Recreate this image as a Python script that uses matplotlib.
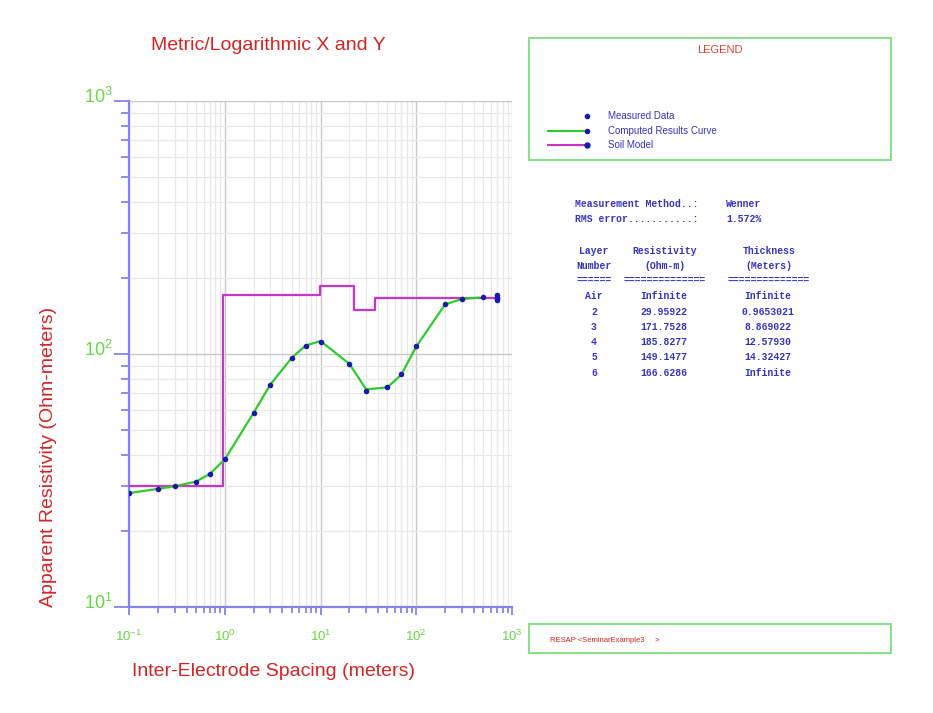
import numpy as np
import matplotlib
matplotlib.use("Agg")
from matplotlib import pyplot as plt
from matplotlib.transforms import ScaledTranslation

# Measured data (spacing in meters, apparent resistivity in ohm-m)
meas_x = [0.1, 0.2, 0.3, 0.5, 0.7, 1, 2, 3, 5, 7, 10, 20, 30, 50, 70, 100, 200, 300, 500, 700, 700]
meas_y = [28.3, 29.2, 30.0, 31.1, 33.5, 38.5, 58.6, 75.4, 96.7, 107.6, 111.3, 91.0, 71.4, 74.3, 83.4,
          107.6, 157.7, 165.0, 168.5, 171.0, 163.5]

# Computed results curve
comp_x = [0.1, 0.2, 0.3, 0.5, 0.7, 1, 2, 3, 5, 7, 10, 20, 30, 50, 70, 100, 200, 300, 450]
comp_y = [28.2, 29.3, 30.0, 31.3, 33.6, 38.3, 58.5, 75.8, 96.5, 108.0, 112.5, 91.5, 72.5, 73.8, 83.0,
          107.0, 157.0, 165.0, 167.0]

# Soil model layers
layer_names = ["Air", "2", "3", "4", "5", "6"]
layer_res_txt = ["Infinite", "29.95922", "171.7528", "185.8277", "149.1477", "166.6286"]
layer_thk_txt = ["Infinite", "0.9653021", "8.869022", "12.57930", "14.32427", "Infinite"]
layer_res = [29.95922, 171.7528, 185.8277, 149.1477, 166.6286]
layer_thk = [0.9653021, 8.869022, 12.57930, 14.32427]
x_start, x_end = 0.1, 700

W, H = 933, 713
red = "#d42424"
green_txt = "#66d845"
blue_ax = "#8484ec"
blue_txt = "#3434c4"
box_green = "#86e086"
dot = "#1a1aaa"


def fx(px):
    return px / W


def fy(py):
    return 1 - py / H


fig = plt.figure(figsize=(W / 100, H / 100), dpi=100)
ax = fig.add_axes([fx(129), fy(607), fx(512) - fx(129), fy(101) - fy(607)])

# soil model step line
bounds = np.concatenate([[x_start], np.cumsum(layer_thk), [x_end]])
soil_y = layer_res + [layer_res[-1]]
ax.plot(bounds, soil_y, drawstyle="steps-post", color="#cc33cc", linewidth=1.6, zorder=3)
ax.plot([x_end], [layer_res[-1]], marker="o", markersize=3.2, color=dot, zorder=5)

ax.plot(comp_x, comp_y, color="#2ccc2c", linewidth=1.6, zorder=4)
ax.plot(meas_x, meas_y, linestyle="none", marker="o", markersize=3.0, color=dot, zorder=5)

ax.set_xscale("log")
ax.set_yscale("log")
ax.set_xlim(0.1, 1000)
ax.set_ylim(10, 1000)

ax.grid(which="major", color="#c8c8c8", linewidth=1.0)
ax.grid(which="minor", color="#e8e8e8", linewidth=0.9)
ax.spines["top"].set_visible(False)
ax.spines["right"].set_visible(False)
for s in ["left", "bottom"]:
    ax.spines[s].set_color(blue_ax)
    ax.spines[s].set_linewidth(1.6)

ax.tick_params(axis="x", which="major", length=6, width=1.3, color=blue_ax, labelsize=9.5,
               labelcolor=green_txt, pad=10)
ax.tick_params(axis="x", which="minor", length=4.5, width=1.3, color=blue_ax)
ax.tick_params(axis="y", which="major", length=11, width=1.3, color=blue_ax, labelsize=13,
               labelcolor=green_txt, pad=1)
ax.tick_params(axis="y", which="minor", length=6, width=1.3, color=blue_ax)
ax.yaxis.set_minor_formatter(matplotlib.ticker.NullFormatter())
ax.xaxis.set_minor_formatter(matplotlib.ticker.NullFormatter())
ax.set_yticks([10, 100, 1000])
ax.set_xticks([0.1, 1, 10, 100, 1000])
shift_up = ScaledTranslation(0, 6 / 100, fig.dpi_scale_trans)
for lab in ax.get_yticklabels():
    lab.set_family("Liberation Sans")
    lab.set_transform(lab.get_transform() + shift_up)
for lab in ax.get_xticklabels():
    lab.set_family("Liberation Sans")

# titles and axis labels
fig.text(fx(268), fy(45), "Metric/Logarithmic X and Y", color=red, fontsize=14,
         family="Liberation Sans", ha="center", va="center")
fig.text(fx(49), fy(457), "Apparent Resistivity (Ohm-meters)", color=red, fontsize=14,
         family="Liberation Sans", ha="center", va="center", rotation=90)
fig.text(fx(273), fy(672), "Inter-Electrode Spacing (meters)", color=red, fontsize=14,
         family="Liberation Sans", ha="center", va="center")

# legend box
lax = fig.add_axes([fx(529), fy(160), fx(891) - fx(529), fy(38) - fy(160)])
lax.set_xlim(529, 891)
lax.set_ylim(160, 38)
lax.set_xticks([])
lax.set_yticks([])
for s in lax.spines.values():
    s.set_color(box_green)
    s.set_linewidth(1.4)
lax.text(720, 50, "LEGEND", color="#e04030", fontsize=8, family="Liberation Sans",
         ha="center", va="center")
lax.plot([587], [116], marker="o", markersize=3.0, color=dot, linestyle="none")
lax.plot([548, 587], [131, 131], color="#2ccc2c", linewidth=1.5)
lax.plot([587], [131], marker="o", markersize=3.0, color=dot)
lax.plot([548, 587], [145, 145], color="#cc33cc", linewidth=1.5)
lax.plot([587], [145], marker="o", markersize=3.6, color=dot)
for yy, txt in zip([116, 131, 145], ["Measured Data", "Computed Results Curve", "Soil Model"]):
    lax.text(608, yy, txt, color=blue_txt, fontsize=7, family="Liberation Sans", va="center")

# results table
mono = dict(color=blue_txt, fontsize=7, family="Liberation Mono", weight="bold", va="center")
fig.text(fx(575), fy(204), "Measurement Method..:", ha="left", **mono)
fig.text(fx(726), fy(204), "Wenner", ha="left", **mono)
fig.text(fx(575), fy(219), "RMS error...........:", ha="left", **mono)
fig.text(fx(726), fy(219), "1.572%", ha="left", **mono)

col_x = [594, 665, 769]
fig.text(fx(col_x[0]), fy(251), "Layer", ha="center", **mono)
fig.text(fx(col_x[1]), fy(251), "Resistivity", ha="center", **mono)
fig.text(fx(col_x[2]), fy(251), "Thickness", ha="center", **mono)
fig.text(fx(col_x[0]), fy(266), "Number", ha="center", **mono)
fig.text(fx(col_x[1]), fy(266), "(Ohm-m)", ha="center", **mono)
fig.text(fx(col_x[2]), fy(266), "(Meters)", ha="center", **mono)
fig.text(fx(col_x[0]), fy(280), "======", ha="center", **mono)
fig.text(fx(col_x[1]), fy(280), "==============", ha="center", **mono)
fig.text(fx(col_x[2]), fy(280), "==============", ha="center", **mono)
row_y = [296, 312, 327, 342, 357, 373]
for yy, a, b, c in zip(row_y, layer_names, layer_res_txt, layer_thk_txt):
    fig.text(fx(col_x[0]), fy(yy), a, ha="center", **mono)
    fig.text(fx(col_x[1] - 1), fy(yy), b, ha="center", **mono)
    fig.text(fx(col_x[2] - 1), fy(yy), c, ha="center", **mono)

# bottom file box
bax = fig.add_axes([fx(529), fy(653), fx(891) - fx(529), fy(624) - fy(653)])
bax.set_xticks([])
bax.set_yticks([])
for s in bax.spines.values():
    s.set_color(box_green)
    s.set_linewidth(1.4)
fig.text(fx(550), fy(640), "RESAP <SeminarExample3     >", color=red, fontsize=5.5,
         family="Liberation Sans", ha="left", va="center")

fig.savefig("out.png", dpi=100)
